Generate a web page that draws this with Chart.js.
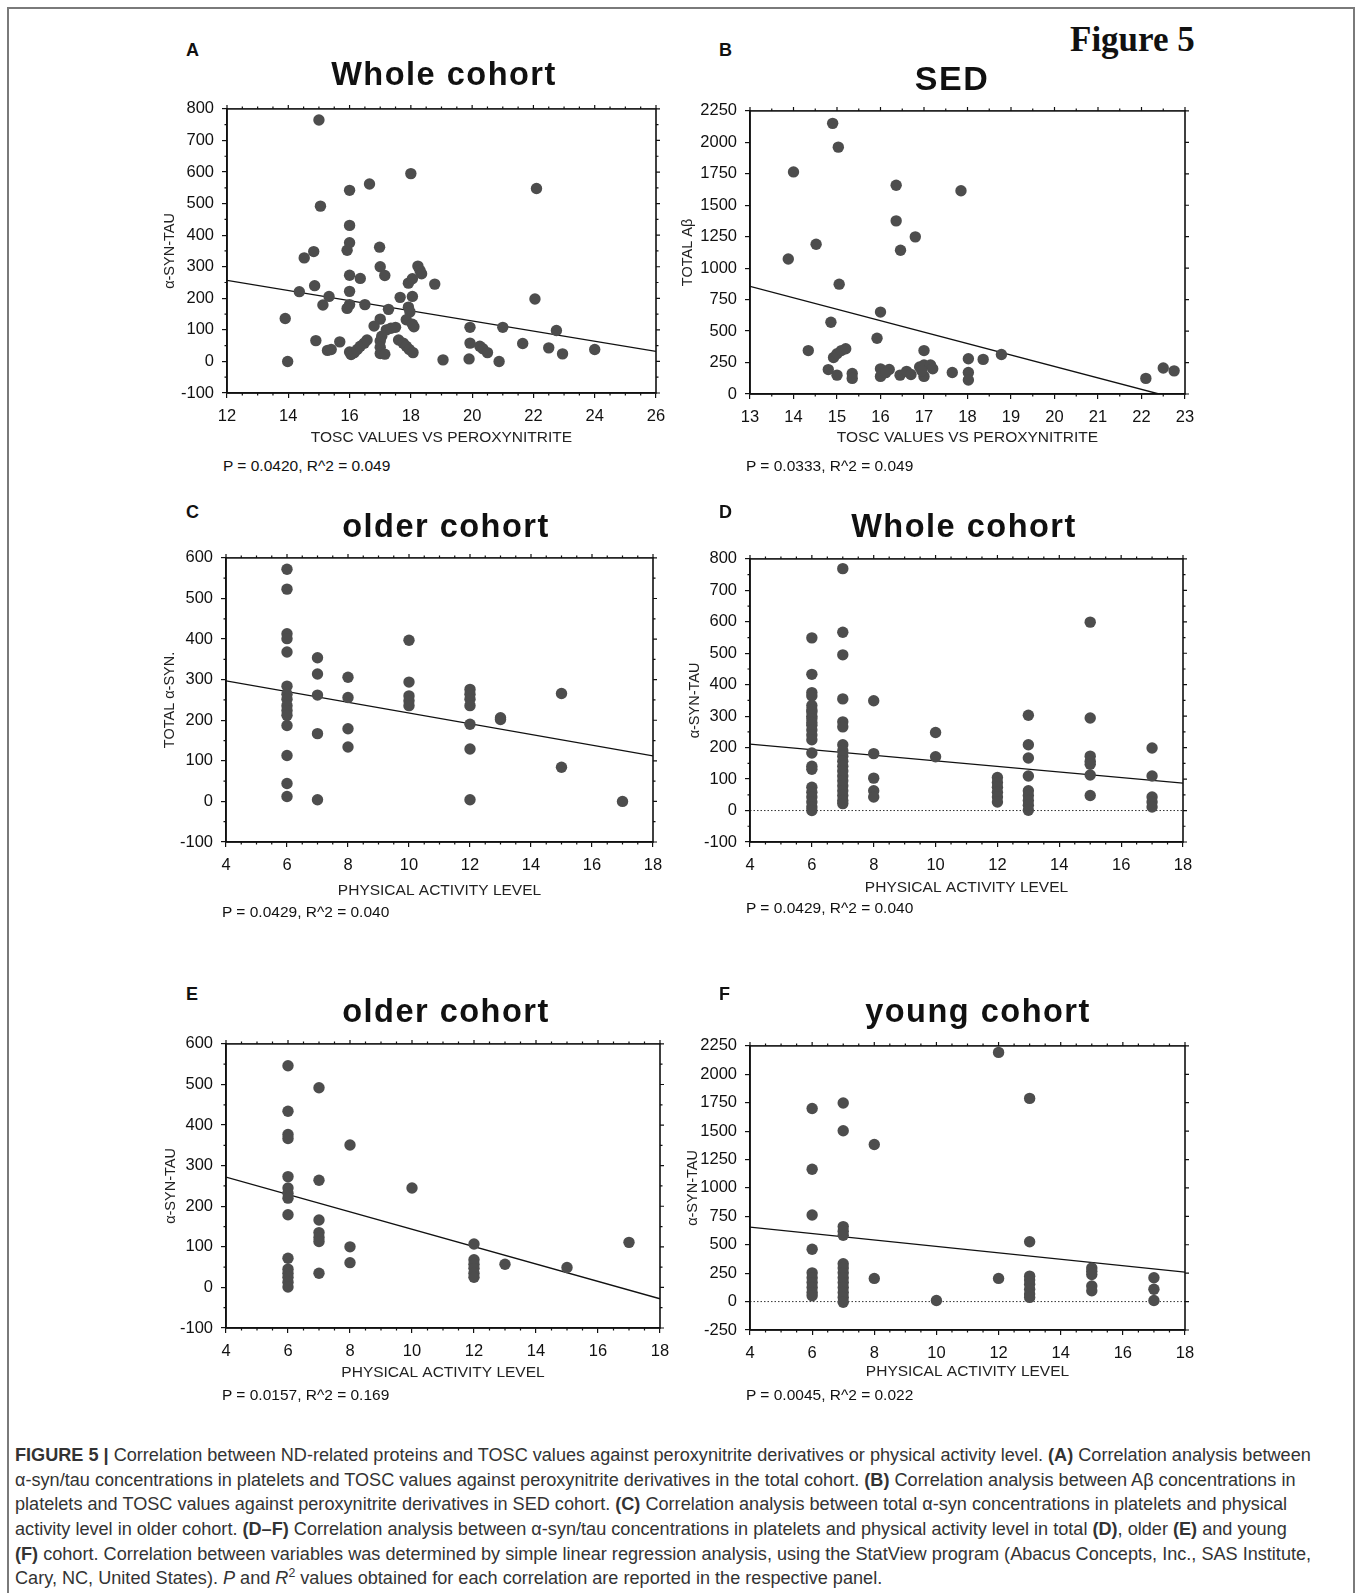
<!DOCTYPE html>
<html>
<head>
<meta charset="utf-8">
<script src="https://cdn.jsdelivr.net/npm/chart.js@4.4.1/dist/chart.umd.min.js"></script>
<style>
  body { margin: 0; background: #fff; width: 1360px; height: 1593px; position: relative; overflow: hidden;
         font-family: "Liberation Sans", Arial, sans-serif; }
  .frame { position: absolute; left: 7px; top: 7px; width: 1348px; height: 1600px;
           border: 2px solid #7a7a7a; border-bottom: none; box-sizing: border-box; }
  .txt { position: absolute; white-space: nowrap; line-height: 1; }
  canvas { position: absolute; }
  #caption { position: absolute; left: 15px; top: 1443px; color: #333; font-size: 16px; }
  #caption div { white-space: nowrap; width: max-content; height: 24.7px; line-height: 24.7px; }
  #caption sup { font-size: 0.68em; line-height: 0; }
</style>
</head>
<body>
<div class="frame"></div>
<div id="caption">
  <div><b>FIGURE 5 |</b> Correlation between ND-related proteins and TOSC values against peroxynitrite derivatives or physical activity level. <b>(A)</b> Correlation analysis between</div>
  <div>α-syn/tau concentrations in platelets and TOSC values against peroxynitrite derivatives in the total cohort. <b>(B)</b> Correlation analysis between Aβ concentrations in</div>
  <div>platelets and TOSC values against peroxynitrite derivatives in SED cohort. <b>(C)</b> Correlation analysis between total α-syn concentrations in platelets and physical</div>
  <div>activity level in older cohort. <b>(D–F)</b> Correlation analysis between α-syn/tau concentrations in platelets and physical activity level in total <b>(D)</b>, older <b>(E)</b> and young</div>
  <div><b>(F)</b> cohort. Correlation between variables was determined by simple linear regression analysis, using the StatView program (Abacus Concepts, Inc., SAS Institute,</div>
  <div>Cary, NC, United States). <i>P</i> and <i>R</i><sup>2</sup> values obtained for each correlation are reported in the respective panel.</div>
</div>
<script>
// ---- Panel A: α-syn/tau vs TOSC, whole cohort
const aTosc = [15.0, 18.0, 16.65, 16.0, 22.1, 15.05, 16.0, 16.0, 15.92, 16.98, 14.52, 14.83, 17.0, 17.15, 16.0, 16.35,
  18.23, 18.3, 18.35, 17.92, 18.05, 18.78, 14.36, 14.86, 15.33, 15.13, 16.0, 16.0, 15.92, 16.5, 17.65, 18.05, 17.27,
  17.92, 17.97, 17.85, 18.05, 18.1, 13.9, 17.0, 16.8, 17.2, 17.35, 17.5, 17.05, 17.0, 17.0, 14.9, 15.28, 15.4, 15.68,
  16.0, 16.05, 16.15, 16.25, 16.35, 16.48, 16.57, 17.0, 17.15, 17.6, 17.75, 17.85, 17.95, 18.07, 13.98, 19.05, 19.93,
  19.9, 19.93, 20.25, 20.35, 20.5, 20.88, 21.0, 21.65, 22.05, 22.5, 22.75, 22.95, 24.0];
const aSynTau = [765, 595, 562, 542, 548, 492, 431, 376, 352, 362, 328, 348, 300, 272, 273, 263,
  302, 288, 278, 248, 262, 245, 221, 240, 206, 179, 222, 180, 168, 180, 203, 206, 165,
  172, 157, 132, 118, 110, 136, 134, 112, 100, 105, 108, 80, 65, 45, 66, 35, 38, 62,
  30, 22, 28, 38, 48, 58, 68, 25, 23, 68, 58, 48, 38, 28, 0, 5, 108,
  8, 58, 48, 40, 28, 0, 108, 57, 198, 43, 98, 24, 38];
const aFit = [[12, 257], [26, 32]];

// ---- Panel B: total Aβ vs TOSC, SED
const bTosc = [14.9, 15.03, 14.0, 16.36, 17.85, 16.36, 16.8, 14.52, 16.46, 13.88, 15.05, 16.0, 14.86, 15.92, 14.34,
  14.92, 15.0, 15.1, 15.2, 17.0, 14.8, 15.0, 15.35, 15.35, 16.0, 16.05, 16.0, 16.2, 16.12, 16.45, 16.6, 16.7, 16.9,
  17.0, 17.15, 17.2, 17.0, 16.95, 17.65, 18.02, 18.02, 18.02, 18.36, 18.78, 22.1, 22.5, 22.75];
const bAbeta = [2151, 1962, 1765, 1659, 1615, 1376, 1249, 1190, 1143, 1073, 873, 651, 570, 443, 345,
  290, 320, 345, 360, 345, 194, 150, 163, 124, 200, 165, 140, 195, 170, 150, 180, 155, 215,
  230, 230, 200, 140, 185, 171, 280, 171, 111, 275, 314, 124, 207, 184];
const bFit = [[13, 855], [22.4, 0]];

// ---- Panels C-F: values grouped by physical activity level
const activityLevels = [6, 7, 8, 10, 12, 13, 15, 17];
const cTotalSyn = [
  [572, 523, 413, 401, 368, 284, 264, 252, 236, 224, 212, 187, 113, 44, 12],
  [354, 314, 262, 167, 4],
  [306, 256, 179, 134],
  [397, 294, 260, 248, 236],
  [276, 264, 252, 236, 190, 129, 4],
  [202, 206],
  [266, 84],
  [0]
];
const cFit = [[4, 297], [18, 112]];

const dSynTau = [
  [549, 433, 375, 364, 334, 320, 313, 300, 292, 280, 271, 256, 240, 225, 183, 141, 131, 74, 58, 43, 27, 11, 0],
  [769, 567, 495, 355, 282, 266, 209, 190, 173, 157, 141, 126, 110, 95, 79, 63, 48, 32, 22],
  [349, 181, 103, 63, 43],
  [248, 171],
  [105, 89, 74, 58, 43, 27],
  [303, 209, 167, 110, 63, 48, 32, 17, 1],
  [599, 294, 173, 157, 147, 113, 48],
  [199, 110, 43, 27, 11]
];
const dFit = [[4, 211], [18, 87]];

const eSynTau = [
  [546, 434, 377, 367, 273, 245, 232, 220, 179, 72, 45, 35, 25, 13, 1],
  [492, 264, 166, 135, 123, 113, 35],
  [351, 100, 61],
  [245],
  [107, 68, 57, 47, 35, 25],
  [57],
  [49],
  [111]
];
const eFit = [[4, 272], [18, -28]];

const fSynTau = [
  [1699, 1164, 762, 460, 253, 210, 167, 124, 80, 52],
  [1747, 1503, 660, 620, 583, 333, 296, 253, 210, 167, 124, 80, 37, -6],
  [1382, 204],
  [9],
  [2193, 204],
  [1788, 526, 224, 190, 152, 109, 66, 37],
  [296, 267, 239, 138, 95],
  [210, 109, 9]
];
const fFit = [[4, 655], [18, 259]];

// ---- tick labels
const toscTicksA = [12, 14, 16, 18, 20, 22, 24, 26];
const toscTicksB = [13, 14, 15, 16, 17, 18, 19, 20, 21, 22, 23];
const activityTicks = [4, 6, 8, 10, 12, 14, 16, 18];
const ticks800 = [-100, 0, 100, 200, 300, 400, 500, 600, 700, 800];
const ticks600 = [-100, 0, 100, 200, 300, 400, 500, 600];
const ticksAbeta = [0, 250, 500, 750, 1000, 1250, 1500, 1750, 2000, 2250];
const ticks2250 = [-250, 0, 250, 500, 750, 1000, 1250, 1500, 1750, 2000, 2250];

const pairs = (xs, ys) => xs.map((x, i) => ({ x, y: ys[i] }));
const grouped = (levels, vals) => levels.flatMap((lv, i) => vals[i].map(y => ({ x: lv, y })));

const panels = [
  { letter: 'A', rect: [227, 103, 656, 393], title: 'Whole cohort', tx: 444, ty: 74, lx: 186, ly: 50,
    points: pairs(aTosc, aSynTau), fit: aFit, xTicks: toscTicksA, yTicks: ticks800, minorX: 0.5, minorY: 50,
    xTitle: 'TOSC VALUES VS PEROXYNITRITE', yTitle: 'α-SYN-TAU', xGap: 45, yGap: 57, p: 'P = 0.0420, R^2 = 0.049', py: 466 },
  { letter: 'B', rect: [750, 105, 1185, 394], title: 'SED', tx: 952, ty: 78, lx: 719, ly: 50, tsize: 34,
    points: pairs(bTosc, bAbeta), fit: bFit, xTicks: toscTicksB, yTicks: ticksAbeta, minorX: 0.5, minorY: null,
    xTitle: 'TOSC VALUES VS PEROXYNITRITE', yTitle: 'TOTAL Aβ', xGap: 44, yGap: 62, p: 'P = 0.0333, R^2 = 0.049', py: 466 },
  { letter: 'C', rect: [226, 552, 653, 842], title: 'older cohort', tx: 446, ty: 526, lx: 186, ly: 512,
    points: grouped(activityLevels, cTotalSyn), fit: cFit, xTicks: activityTicks, yTicks: ticks600, minorX: 0.5, minorY: 50,
    xTitle: 'PHYSICAL ACTIVITY LEVEL', yTitle: 'TOTAL α-SYN.', xGap: 49, yGap: 56, p: 'P = 0.0429, R^2 = 0.040', py: 912 },
  { letter: 'D', rect: [750, 553, 1183, 842], title: 'Whole cohort', tx: 964, ty: 526, lx: 719, ly: 512, zero: true,
    points: grouped(activityLevels, dSynTau), fit: dFit, xTicks: activityTicks, yTicks: ticks800, minorX: 0.5, minorY: 50,
    xTitle: 'PHYSICAL ACTIVITY LEVEL', yTitle: 'α-SYN-TAU', xGap: 46, yGap: 55, p: 'P = 0.0429, R^2 = 0.040', py: 908 },
  { letter: 'E', rect: [226, 1038, 660, 1328], title: 'older cohort', tx: 446, ty: 1011, lx: 186, ly: 994,
    points: grouped(activityLevels, eSynTau), fit: eFit, xTicks: activityTicks, yTicks: ticks600, minorX: 0.5, minorY: 50,
    xTitle: 'PHYSICAL ACTIVITY LEVEL', yTitle: 'α-SYN-TAU', xGap: 45, yGap: 55, p: 'P = 0.0157, R^2 = 0.169', py: 1395 },
  { letter: 'F', rect: [750, 1040, 1185, 1330], title: 'young cohort', tx: 978, ty: 1011, lx: 719, ly: 994, zero: true,
    points: grouped(activityLevels, fSynTau), fit: fFit, xTicks: activityTicks, yTicks: ticks2250, minorX: 0.5, minorY: null,
    xTitle: 'PHYSICAL ACTIVITY LEVEL', yTitle: 'α-SYN-TAU', xGap: 42, yGap: 57, p: 'P = 0.0045, R^2 = 0.022', py: 1395 }
];

function addText(str, x, y, css, center) {
  const d = document.createElement('div');
  d.className = 'txt';
  d.innerHTML = str;
  Object.assign(d.style, css);
  d.style.left = x + 'px';
  d.style.top = y + 'px';
  d.style.transform = 'translate(' + (center ? '-50%' : '0') + ', -50%)';
  document.body.appendChild(d);
}

// box around the plot, with outward ticks on top/right and minor ticks on every side
const frameTicks = {
  id: 'frameTicks',
  afterDraw(chart, args, opts) {
    const { ctx, chartArea: a, scales: { x, y } } = chart;
    ctx.save();
    ctx.strokeStyle = '#111';
    ctx.lineWidth = 1.2;
    ctx.beginPath();
    const seg = (x1, y1, x2, y2) => { ctx.moveTo(x1, y1); ctx.lineTo(x2, y2); };
    x.ticks.forEach(t => { const px = x.getPixelForValue(t.value); seg(px, a.top, px, a.top - 4); });
    y.ticks.forEach(t => { const py = y.getPixelForValue(t.value); seg(a.right, py, a.right + 4, py); });
    const isMajor = (s, v) => s.ticks.some(t => Math.abs(t.value - v) < 1e-6);
    if (opts.minorX) {
      for (let v = x.min; v <= x.max + 1e-6; v += opts.minorX) {
        if (isMajor(x, v)) continue;
        const px = x.getPixelForValue(v);
        seg(px, a.bottom, px, a.bottom + 2.5);
        seg(px, a.top, px, a.top - 2.5);
      }
    }
    if (opts.minorY) {
      for (let v = y.min; v <= y.max + 1e-6; v += opts.minorY) {
        if (isMajor(y, v)) continue;
        const py = y.getPixelForValue(v);
        seg(a.left, py, a.left - 2.5, py);
        seg(a.right, py, a.right + 2.5, py);
      }
    }
    ctx.stroke();
    ctx.lineWidth = 1.6;
    ctx.strokeRect(a.left, a.top, a.right - a.left, a.bottom - a.top);
    ctx.restore();
  }
};

Chart.defaults.font.family = '"Liberation Sans", Arial, sans-serif';

function makeChart(p) {
  const [l, t, r, b] = p.rect;
  const padL = 90, padT = 12, padR = 20, padB = 62;
  const cv = document.createElement('canvas');
  cv.width = r - l + padL + padR;
  cv.height = b - t + padT + padB;
  cv.style.left = (l - padL) + 'px';
  cv.style.top = (t - padT) + 'px';
  document.body.appendChild(cv);

  const xMin = p.xTicks[0], xMax = p.xTicks[p.xTicks.length - 1];
  const yMin = p.yTicks[0], yMax = p.yTicks[p.yTicks.length - 1];

  const datasets = [
    { data: p.points, showLine: false, pointRadius: 5.7, pointHoverRadius: 5.7,
      pointBackgroundColor: '#4d4d4d', pointBorderWidth: 0 },
    { data: p.fit.map(([x, y]) => ({ x, y })), showLine: true, borderColor: '#111', borderWidth: 1.3,
      pointRadius: 0, fill: false }
  ];
  if (p.zero) {
    datasets.push({ data: [{ x: xMin, y: 0 }, { x: xMax, y: 0 }], showLine: true, borderColor: '#333',
      borderWidth: 1, borderDash: [1.5, 2], pointRadius: 0, fill: false });
  }

  const tickFont = { size: 16.5 };
  new Chart(cv, {
    type: 'scatter',
    data: { datasets },
    plugins: [frameTicks],
    options: {
      responsive: false,
      animation: false,
      layout: { padding: { left: 0, top: padT, right: padR, bottom: 0 } },
      plugins: { legend: { display: false }, tooltip: { enabled: false }, frameTicks: { minorX: p.minorX, minorY: p.minorY } },
      scales: {
        x: {
          type: 'linear', min: xMin, max: xMax,
          afterBuildTicks: s => { s.ticks = p.xTicks.map(v => ({ value: v })); },
          afterFit: s => { s.height = padB; },
          ticks: { callback: v => String(v), color: '#111', font: tickFont, padding: 9, maxRotation: 0, autoSkip: false },
          grid: { drawOnChartArea: false, drawTicks: true, tickLength: 5, color: '#111', lineWidth: 1.2 },
          border: { display: true, color: '#111', width: 1.6 },
          title: { display: true, text: p.xTitle, color: '#222', font: { size: 15.5 },
                   padding: { top: 0, bottom: padB - 9.3 - p.xGap } }
        },
        y: {
          type: 'linear', min: yMin, max: yMax,
          afterBuildTicks: s => { s.ticks = p.yTicks.map(v => ({ value: v })); },
          afterFit: s => { s.width = padL; },
          ticks: { callback: v => String(v), color: '#111', font: tickFont, padding: 8, autoSkip: false },
          grid: { drawOnChartArea: false, drawTicks: true, tickLength: 5, color: '#111', lineWidth: 1.2 },
          border: { display: true, color: '#111', width: 1.6 },
          title: { display: true, text: p.yTitle, color: '#222', font: { size: 14.5 },
                   padding: { top: padL - p.yGap - 8.7, bottom: 0 } }
        }
      }
    }
  });

  addText(p.letter, p.lx, p.ly, { fontSize: '18px', fontWeight: 'bold', color: '#111' }, false);
  addText(p.title, p.tx, p.ty, { fontSize: (p.tsize || 32.5) + 'px', fontWeight: 'bold', letterSpacing: '1.5px', color: '#111' }, true);
  addText(p.p, l - 4, p.py, { fontSize: '15.5px', color: '#111' }, false);
}

panels.forEach(makeChart);

addText('Figure 5', 1070, 39, { fontFamily: '"Liberation Serif", "Times New Roman", serif', fontWeight: 'bold',
  fontSize: '35px', color: '#111' }, false);

// size the caption so its first line spans the same width as in the figure
const cap = document.getElementById('caption');
const w = cap.firstElementChild.getBoundingClientRect().width;
cap.style.fontSize = (16 * 1296 / w) + 'px';
</script>
</body>
</html>
